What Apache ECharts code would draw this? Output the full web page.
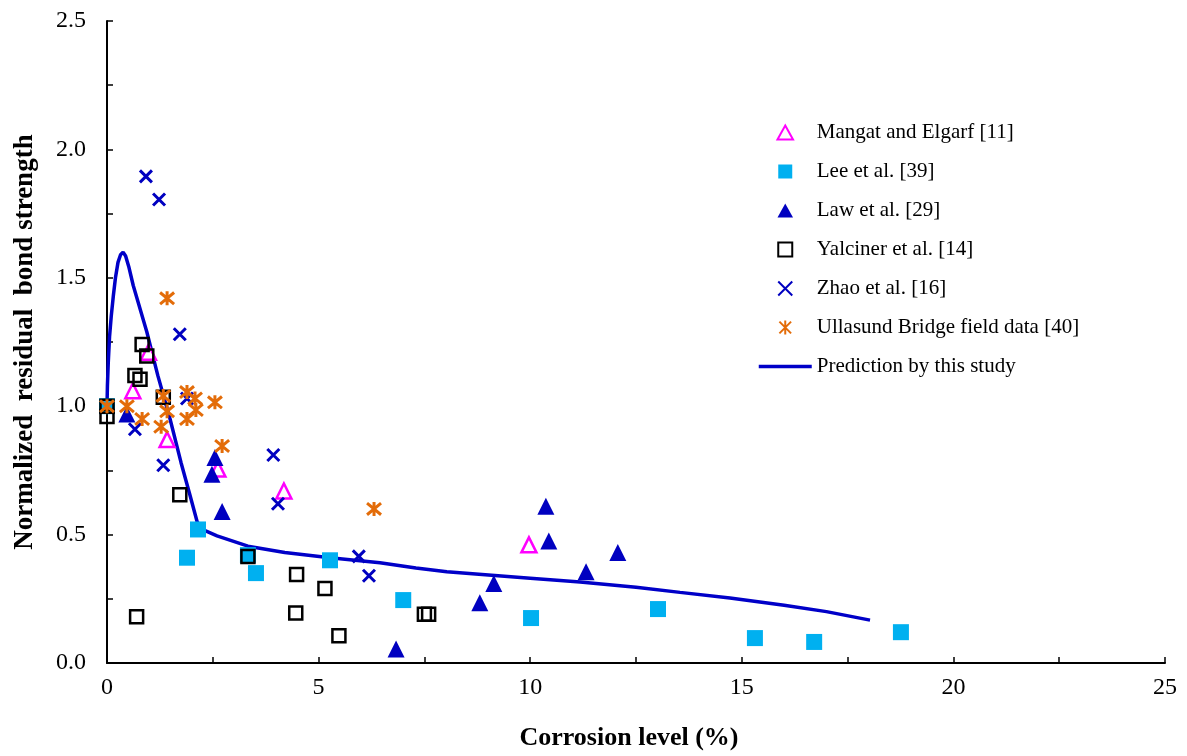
<!DOCTYPE html>
<html lang="en">
<head>
    <meta charset="UTF-8">
    <title>Normalized residual bond strength</title>
    <script src="https://cdn.jsdelivr.net/npm/echarts@6.0.0/dist/echarts.min.js"></script>
</head>
<body style="margin:0;background:#fff;">
    <div id="main" style="width: 1187px;height:756px;"></div>

    <script type="text/javascript">
        // data: [corrosion level %, normalized bond strength]
        const mangat = [[0.61, 1.06], [0.98, 1.21], [1.42, 0.87], [2.62, 0.755], [4.18, 0.67], [9.97, 0.46]];
        const lee = [[0, 1.0], [1.89, 0.41], [2.15, 0.52], [3.33, 0.42], [3.52, 0.35], [5.27, 0.40],
            [7.0, 0.245], [10.02, 0.175], [13.02, 0.21], [15.31, 0.097], [16.71, 0.082], [18.76, 0.12]];
        const law = [[0.47, 0.97], [2.55, 0.80], [2.48, 0.735], [2.72, 0.59], [6.83, 0.055], [8.81, 0.235],
            [9.14, 0.31], [10.37, 0.61], [10.44, 0.475], [11.32, 0.355], [12.07, 0.43]];
        const yalciner = [[0, 1.0], [0, 0.96], [0.83, 1.24], [0.94, 1.195], [0.66, 1.12], [0.78, 1.105],
            [1.33, 1.035], [1.72, 0.655], [0.7, 0.18], [3.33, 0.415], [4.48, 0.345], [4.46, 0.195],
            [5.15, 0.29], [5.48, 0.106], [7.5, 0.19], [7.6, 0.19]];
        const zhao = [[0.92, 1.895], [1.23, 1.805], [1.72, 1.28], [1.89, 1.03], [0.66, 0.91], [1.33, 0.77],
            [3.93, 0.81], [4.04, 0.62], [5.95, 0.415], [6.19, 0.34]];
        const ullasund = [[0, 1.0], [0.47, 1.0], [0.83, 0.95], [1.42, 1.42], [1.33, 1.04], [1.42, 0.98],
            [1.28, 0.92], [1.89, 1.055], [2.08, 1.03], [2.1, 0.985], [1.89, 0.95], [2.55, 1.015],
            [2.72, 0.845], [6.31, 0.60]];
        const prediction = [[0, 1.0], [0.01, 1.08], [0.03, 1.17], [0.06, 1.27], [0.1, 1.35], [0.15, 1.43],
            [0.2, 1.5], [0.26, 1.56], [0.32, 1.59], [0.38, 1.6], [0.44, 1.585], [0.52, 1.54], [0.62, 1.47],
            [0.94, 1.29], [1.2, 1.12], [1.49, 0.95], [1.75, 0.78], [1.95, 0.66], [2.13, 0.55], [2.25, 0.52],
            [2.6, 0.495], [3.33, 0.455], [4.2, 0.43], [5.27, 0.41], [6.45, 0.39], [7.3, 0.37], [8.03, 0.355],
            [10.0, 0.33], [11.18, 0.315], [12.5, 0.295], [13.54, 0.275], [14.72, 0.253], [16.0, 0.225],
            [17.0, 0.2], [18.03, 0.167]];

        const names = ['Mangat and Elgarf [11]', 'Lee et al. [39]', 'Law et al. [29]', 'Yalciner et al. [14]',
            'Zhao et al. [16]', 'Ullasund Bridge field data [40]', 'Prediction by this study'];

        const serif = '"Liberation Serif", "Times New Roman", serif';
        // path symbols keep their aspect in the legend
        const tri = 'path://M5,0L10,9L0,9Z';
        const square = 'path://M0,0L10,0L10,10L0,10Z';
        const cross = 'path://M0,0L10,10M10,0L0,10';
        const star = 'path://M0,0L10,10M10,0L0,10M5,-1L5,11';

        let myChart = echarts.init(document.getElementById('main'));

        let options = {
            animation: false,
            grid: { left: 107, right: 22, top: 21, bottom: 92 },
            legend: {
                data: names.slice(0, 6).concat([{
                    name: names[6], itemStyle: { opacity: 0 },
                    lineStyle: { color: '#0000C8', width: 3.5 }
                }]),
                orient: 'vertical',
                left: 752,
                top: 117,
                itemWidth: 53,
                itemHeight: 14,
                itemGap: 18,
                symbolKeepAspect: true,
                textStyle: { fontFamily: serif, fontSize: 21, color: '#000' }
            },
            xAxis: {
                type: 'value', min: 0, max: 25, interval: 2.5,
                name: 'Corrosion level (%)', nameLocation: 'middle', nameGap: 62,
                nameTextStyle: { fontFamily: serif, fontSize: 26, fontWeight: 'bold', color: '#000', padding: [0, 14, 0, 0] },
                axisLine: { lineStyle: { color: '#000', width: 2 } },
                axisTick: { inside: true, length: 6, lineStyle: { color: '#000', width: 1.5 } },
                axisLabel: {
                    fontFamily: serif, fontSize: 24, color: '#000', margin: 13,
                    formatter: v => (v % 5 === 0 ? String(v) : '')
                },
                splitLine: { show: false }
            },
            yAxis: {
                type: 'value', min: 0, max: 2.5, interval: 0.25,
                name: 'Normalized  residual  bond strength', nameLocation: 'middle', nameGap: 68,
                nameTextStyle: { fontFamily: serif, fontSize: 27, fontWeight: 'bold', color: '#000' },
                axisLine: { show: true, lineStyle: { color: '#000', width: 2 } },
                axisTick: { show: true, inside: true, length: 6, lineStyle: { color: '#000', width: 1.5 } },
                axisLabel: {
                    fontFamily: serif, fontSize: 24, color: '#000', margin: 21,
                    formatter: v => (Math.abs(v * 2 - Math.round(v * 2)) < 1e-6 ? v.toFixed(1) : '')
                },
                splitLine: { show: false }
            },
            series: [
                {
                    name: names[0], type: 'scatter', data: mangat, symbol: tri, symbolSize: 15, z: 3,
                    itemStyle: { color: '#fff', borderColor: '#FF00FF', borderWidth: 2.5, opacity: 1 }
                },
                {
                    name: names[1], type: 'scatter', data: lee, symbol: square, symbolSize: 16, z: 3,
                    itemStyle: { color: '#00B0F0', opacity: 1 }
                },
                {
                    name: names[2], type: 'scatter', data: law, symbol: tri, symbolSize: 17, z: 3,
                    itemStyle: { color: '#0000C0', opacity: 1 }
                },
                {
                    name: names[3], type: 'scatter', data: yalciner, symbol: square, symbolSize: 13, z: 3,
                    itemStyle: { color: 'rgba(255,255,255,0)', borderColor: '#000', borderWidth: 2.5, opacity: 1 }
                },
                {
                    name: names[4], type: 'scatter', data: zhao, symbol: cross, symbolSize: 12, z: 3,
                    itemStyle: { color: 'rgba(0,0,0,0)', borderColor: '#0000C0', borderWidth: 3, opacity: 1 }
                },
                {
                    name: names[5], type: 'scatter', data: ullasund, symbol: star, symbolSize: 14, z: 3,
                    itemStyle: { color: 'rgba(0,0,0,0)', borderColor: '#E36C09', borderWidth: 3, opacity: 1 }
                },
                {
                    name: names[6], type: 'line', data: prediction, symbol: 'none', z: 2,
                    lineStyle: { color: '#0000C8', width: 3.5 },
                    itemStyle: { color: '#0000C8' }
                }
            ]
        };

        myChart.setOption(options);
    </script>
</body>
</html>
